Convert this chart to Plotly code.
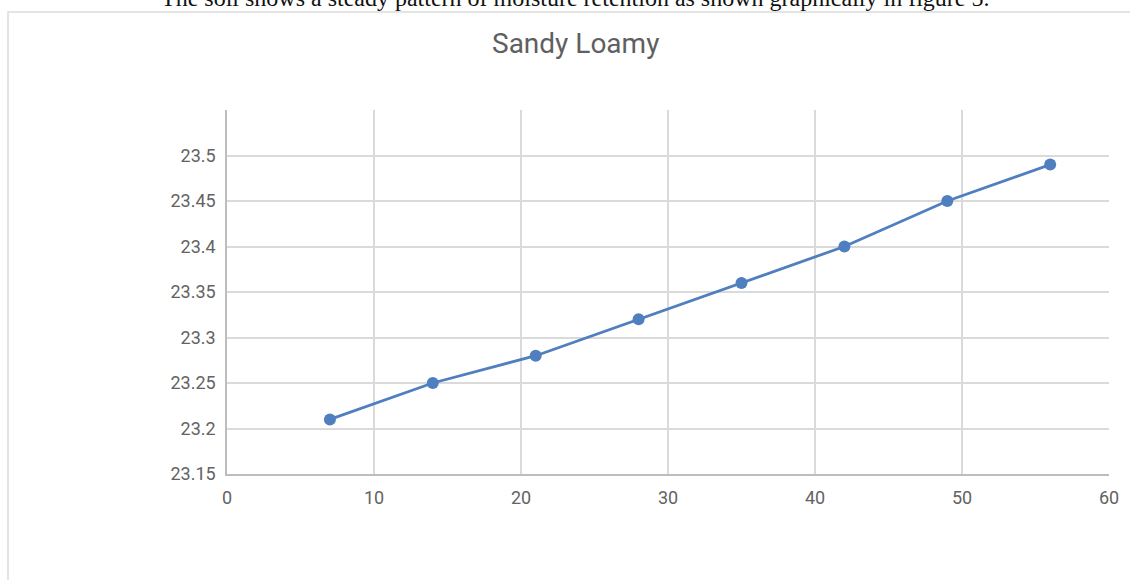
import plotly.graph_objects as go

# Moisture retention readings for the sandy loamy soil sample
days = [7, 14, 21, 28, 35, 42, 49, 56]
moisture = [23.21, 23.25, 23.28, 23.32, 23.36, 23.40, 23.45, 23.49]

x_ticks = [0, 10, 20, 30, 40, 50, 60]
y_ticks = [23.15, 23.2, 23.25, 23.3, 23.35, 23.4, 23.45, 23.5]
y_tick_text = ["23.15", "23.2", "23.25", "23.3", "23.35", "23.4", "23.45", "23.5"]

W, H = 1130, 580
ML, MR, MT, MB = 227, 21, 110, 106
PW, PH = W - ML - MR, H - MT - MB


def px_x(p):
    return (p - ML) / PW


def px_y(p):
    return (H - MB - p) / PH


tick_font = dict(family="Roboto", size=18, color="#636363")

fig = go.Figure()
fig.add_trace(go.Scatter(
    x=days, y=moisture, mode="lines+markers",
    line=dict(color="#4f7fbf", width=2.8),
    marker=dict(color="#4f7fbf", size=12),
    showlegend=False,
))

fig.update_layout(
    width=W, height=H,
    margin=dict(l=ML, r=MR, t=MT, b=MB),
    paper_bgcolor="white", plot_bgcolor="white",
    font=dict(family="Roboto", color="#636363", size=18),
    xaxis=dict(
        range=[0, 60], tickvals=x_ticks, ticktext=[str(v) for v in x_ticks],
        showgrid=True, gridcolor="#dadada", gridwidth=1.5,
        showline=True, linecolor="#bdbdbd", linewidth=1.5,
        zeroline=False, ticks="", ticklabelstandoff=7,
        tickfont=tick_font,
    ),
    yaxis=dict(
        range=[23.15, 23.55], tickvals=y_ticks, ticktext=y_tick_text,
        showgrid=True, gridcolor="#dadada", gridwidth=1.5,
        showline=True, linecolor="#bdbdbd", linewidth=1.5,
        zeroline=False, ticks="", ticklabelstandoff=6,
        tickfont=tick_font,
    ),
    shapes=[
        dict(type="rect", xref="paper", yref="paper",
             x0=px_x(8), x1=px_x(1140), y0=px_y(12), y1=px_y(600),
             line=dict(color="#dcdcdc", width=1.5), fillcolor="rgba(0,0,0,0)",
             layer="below"),
    ],
    annotations=[
        dict(text="Sandy Loamy", xref="paper", yref="paper",
             x=px_x(575), y=px_y(43), xanchor="center", yanchor="middle",
             showarrow=False, font=dict(family="Roboto", size=28, color="#5f5f5f")),
        dict(text="The soil shows a steady pattern of moisture retention as shown graphically in figure 5.",
             xref="paper", yref="paper",
             x=px_x(575), y=px_y(-2), xanchor="center", yanchor="middle",
             showarrow=False,
             font=dict(family="Liberation Serif", size=24, color="#111111")),
    ],
)

fig.write_html("out.html")
